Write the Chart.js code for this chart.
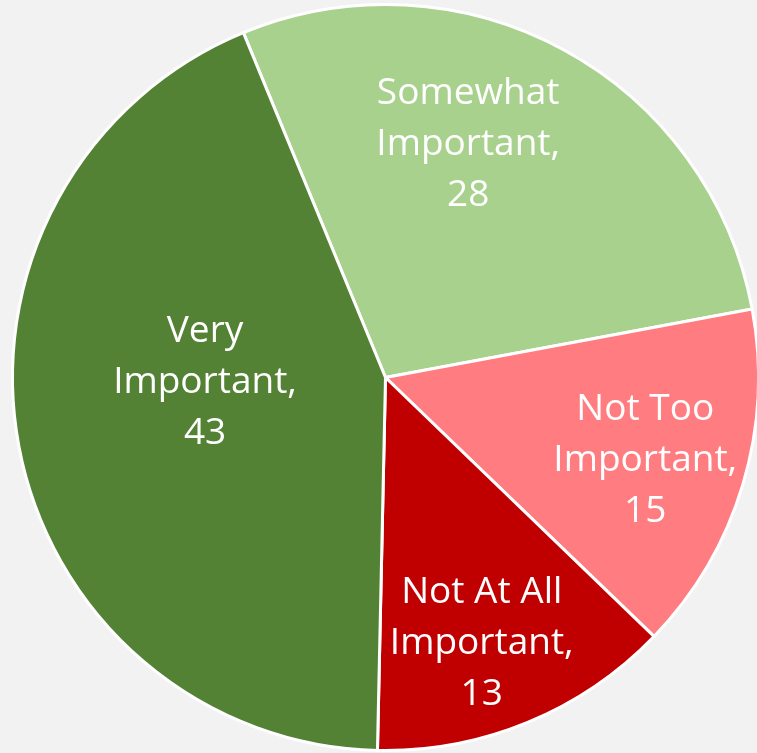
<!DOCTYPE html>
<html>
<head>
<meta charset="utf-8">
<script src="https://cdn.jsdelivr.net/npm/chart.js@4"></script>
<style>
  html, body { margin: 0; padding: 0; background: #f2f2f2; overflow: hidden; }
  #wrap { width: 800px; height: 753px; }
</style>
</head>
<body>
<div id="wrap"><canvas id="pie"></canvas></div>
<script>
// Data (clockwise from the "Very Important" / "Somewhat Important" edge)
const categories = ['Somewhat Important', 'Not Too Important', 'Not At All Important', 'Very Important'];
const values = [28, 15, 13, 43];
const colors = ['#a9d18e', '#ff7c80', '#c00000', '#548235'];

// Label placement, Excel "best fit" style: angle shift from slice middle (deg), radius fraction
const labelShift = [-9, 1, 2.5, 9];
const labelRadius = [0.664, 0.731, 0.758, 0.484];

const pieLabels = {
    id: 'pieLabels',
    afterDatasetsDraw(chart) {
        const ctx = chart.ctx;
        const arcs = chart.getDatasetMeta(0).data;
        ctx.save();
        ctx.fillStyle = '#ffffff';
        ctx.font = '37px "Open Sans", Lato, sans-serif';
        ctx.textAlign = 'center';
        ctx.textBaseline = 'middle';
        arcs.forEach((arc, i) => {
            const mid = (arc.startAngle + arc.endAngle) / 2 + labelShift[i] * Math.PI / 180;
            const r = arc.outerRadius * labelRadius[i];
            const x = arc.x + Math.cos(mid) * r;
            const y = arc.y + Math.sin(mid) * r;
            const words = categories[i].split(' ');
            const first = words.slice(0, -1).join(' ');
            const lines = [first, words[words.length - 1] + ',', String(values[i])];
            const lh = 51;
            lines.forEach((ln, k) => ctx.fillText(ln, x, y + (k - 1) * lh));
        });
        ctx.restore();
    }
};

new Chart(document.getElementById('pie'), {
    type: 'pie',
    data: {
        labels: categories,
        datasets: [{
            data: values,
            backgroundColor: colors,
            borderColor: '#ffffff',
            borderWidth: 3,
            hoverOffset: 0
        }]
    },
    options: {
        responsive: true,
        maintainAspectRatio: false,
        animation: false,
        rotation: -22.4,
        layout: { padding: { left: 11, top: 3, right: 40, bottom: 1 } },
        plugins: {
            legend: { display: false },
            tooltip: { enabled: false }
        }
    },
    plugins: [pieLabels]
});
</script>
</body>
</html>
